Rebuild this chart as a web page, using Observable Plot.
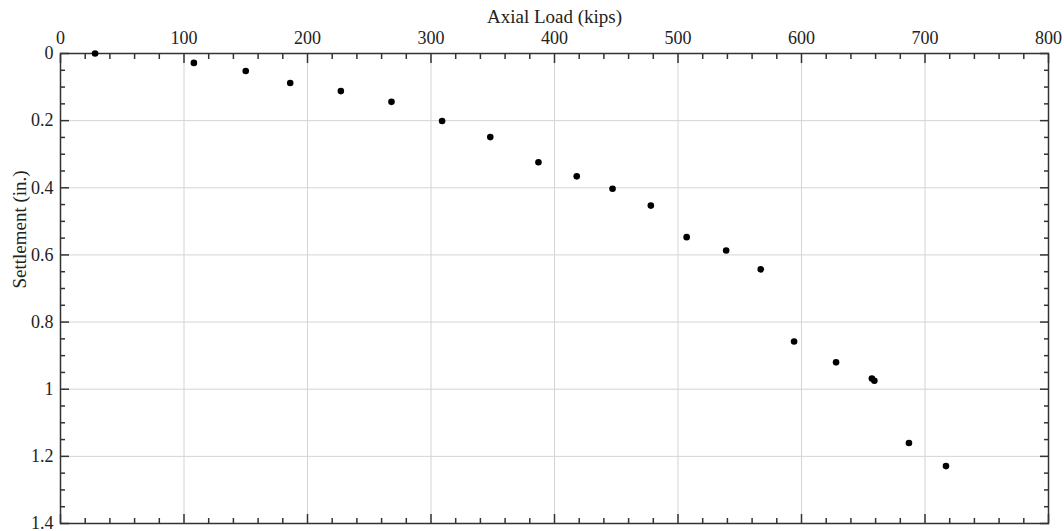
<!DOCTYPE html>
<html>
<head>
<meta charset="utf-8">
<script src="https://cdn.jsdelivr.net/npm/d3@7"></script>
<script src="https://cdn.jsdelivr.net/npm/@observablehq/plot@0.6"></script>
<style>
  html, body { margin: 0; padding: 0; background: #fff; }
</style>
</head>
<body>
<div id="chart"></div>
<script>
// Data
const axialLoad = [28, 108, 150, 186, 227, 268, 309, 348, 387, 418, 447, 478, 507, 539, 567, 594, 628, 657, 659, 687, 717];
const settlement = [0.0, 0.028, 0.052, 0.088, 0.112, 0.144, 0.201, 0.249, 0.324, 0.366, 0.403, 0.453, 0.547, 0.587, 0.643, 0.858, 0.920, 0.968, 0.975, 1.160, 1.229];

const xTicks = [0, 100, 200, 300, 400, 500, 600, 700, 800];
const xMinorTicks = [20, 40, 60, 80, 120, 140, 160, 180, 220, 240, 260, 280, 320, 340, 360, 380, 420, 440, 460, 480, 520, 540, 560, 580, 620, 640, 660, 680, 720, 740, 760, 780];
const yTicks = [0, 0.2, 0.4, 0.6, 0.8, 1, 1.2, 1.4];
const yMinorTicks = [0.05, 0.1, 0.15, 0.25, 0.3, 0.35, 0.45, 0.5, 0.55, 0.65, 0.7, 0.75, 0.85, 0.9, 0.95, 1.05, 1.1, 1.15, 1.25, 1.3, 1.35];
const xGrid = [100, 200, 300, 400, 500, 600, 700];
const yGrid = [0.2, 0.4, 0.6, 0.8, 1, 1.2];

const xTitle = "Axial Load (kips)";
const yTitle = "Settlement (in.)";

const points = axialLoad.map((l, i) => ({load: l, settle: settlement[i]}));
const fmt = d3.format("~g");
const blank = () => "";
const axisColor = "#333";

const chart = Plot.plot({
  width: 1064,
  height: 531,
  marginTop: 53,
  marginLeft: 60,
  marginRight: 16,
  marginBottom: 8,
  style: {fontFamily: "'Liberation Serif', 'Times New Roman', serif", background: "#fff", color: "#222"},
  x: {domain: [0, 800], axis: null},
  y: {domain: [0, 1.4], reverse: true, axis: null},
  marks: [
    Plot.gridX(xGrid, {stroke: "#d4d4d4", strokeOpacity: 1, strokeWidth: 1}),
    Plot.gridY(yGrid, {stroke: "#d4d4d4", strokeOpacity: 1, strokeWidth: 1}),
    // top axis labels
    Plot.axisX({anchor: "top", ticks: xTicks, tickSize: 0, tickPadding: 10, tickFormat: fmt, fontSize: 18, fill: "#222", label: null}),
    // top & bottom inward ticks
    Plot.axisX({anchor: "top", ticks: xTicks, tickSize: -9, tickFormat: blank, stroke: axisColor, strokeWidth: 1.5, label: null}),
    Plot.axisX({anchor: "top", ticks: xMinorTicks, tickSize: -5, tickFormat: blank, stroke: axisColor, strokeWidth: 1.5, label: null}),
    Plot.axisX({anchor: "bottom", ticks: xTicks, tickSize: -9, tickFormat: blank, stroke: axisColor, strokeWidth: 1.5, label: null}),
    Plot.axisX({anchor: "bottom", ticks: xMinorTicks, tickSize: -5, tickFormat: blank, stroke: axisColor, strokeWidth: 1.5, label: null}),
    // left axis labels
    Plot.axisY({anchor: "left", ticks: yTicks, tickSize: 0, tickPadding: 7, tickFormat: fmt, fontSize: 18, fill: "#222", label: null}),
    // left & right inward ticks
    Plot.axisY({anchor: "left", ticks: yTicks, tickSize: -9, tickFormat: blank, stroke: axisColor, strokeWidth: 1.5, label: null}),
    Plot.axisY({anchor: "left", ticks: yMinorTicks, tickSize: -5, tickFormat: blank, stroke: axisColor, strokeWidth: 1.5, label: null}),
    Plot.axisY({anchor: "right", ticks: yTicks, tickSize: -9, tickFormat: blank, stroke: axisColor, strokeWidth: 1.5, label: null}),
    Plot.axisY({anchor: "right", ticks: yMinorTicks, tickSize: -5, tickFormat: blank, stroke: axisColor, strokeWidth: 1.5, label: null}),
    Plot.frame({stroke: axisColor, strokeWidth: 1.5}),
    // titles
    Plot.text([xTitle], {frameAnchor: "top", dy: -37, fontSize: 19, fill: "#222", lineAnchor: "middle"}),
    Plot.text([yTitle], {frameAnchor: "left", dx: -41, rotate: -90, fontSize: 19, fill: "#222", lineAnchor: "middle"}),
    // data
    Plot.dot(points, {x: "load", y: "settle", r: 3.3, fill: "#000", stroke: "none"})
  ]
});
document.getElementById("chart").appendChild(chart);
</script>
</body>
</html>
